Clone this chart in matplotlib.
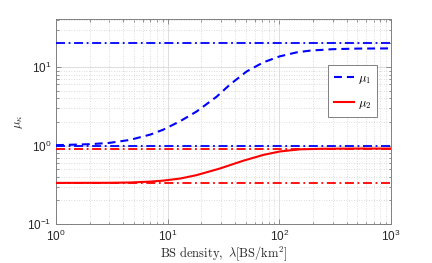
import matplotlib
matplotlib.use('Agg')
import matplotlib.pyplot as plt
from matplotlib.ticker import LogLocator, NullFormatter

# BS density (x) and mean values
lam_mu1 = [1, 2, 3, 4.6, 7, 9.1, 13, 18.2, 27.5, 36, 51, 72, 101, 143, 188, 300, 500, 1000]
mu1 = [1.01, 1.04, 1.08, 1.18, 1.38, 1.59, 2.05, 2.72, 4.2, 5.96, 8.8, 11.5, 13.7, 15.4, 16.2, 16.9, 17.2, 17.3]

lam_mu2 = [1, 3, 4.6, 7, 9.1, 13, 18.2, 29.4, 47.5, 72, 101, 153, 250, 500, 1000]
mu2 = [0.334, 0.335, 0.338, 0.347, 0.357, 0.38, 0.42, 0.51, 0.64, 0.76, 0.84, 0.895, 0.91, 0.915, 0.915]

# asymptotic bounds (dash-dot lines)
mu1_bounds = [20.3, 1.0]
mu2_bounds = [0.915, 0.334]
x_range = [1, 1000]

plt.rcParams['mathtext.fontset'] = 'cm'

fig = plt.figure(figsize=(4.32, 2.63), dpi=100)
fig.patch.set_facecolor('white')
ax = fig.add_axes([0.1296, 0.1483, 0.7755, 0.7795])

BLUE = '#0000ff'
RED = '#ff0000'
DASHDOT = (0, (5, 2, 1, 2))

for b in mu1_bounds:
    ax.plot(x_range, [b, b], color=BLUE, lw=1.3, linestyle=DASHDOT, zorder=3)
for b in mu2_bounds:
    ax.plot(x_range, [b, b], color=RED, lw=1.3, linestyle=DASHDOT, zorder=3)

ax.plot(lam_mu1, mu1, color=BLUE, lw=1.5, linestyle=(0, (3.8, 2.4)), label=r'$\mu_1$', zorder=4)
ax.plot(lam_mu2, mu2, color=RED, lw=1.5, linestyle='-', label=r'$\mu_2$', zorder=4)

ax.set_xscale('log')
ax.set_yscale('log')
ax.set_xlim(1, 1000)
ax.set_ylim(0.1, 41)

ax.yaxis.set_major_locator(LogLocator(base=10, numticks=10))
ax.yaxis.set_minor_locator(LogLocator(base=10, subs=range(2, 10), numticks=20))
ax.yaxis.set_minor_formatter(NullFormatter())
ax.xaxis.set_minor_formatter(NullFormatter())

ax.grid(True, which='major', color='#d9d9d9', lw=0.6, linestyle='-')
ax.grid(True, which='minor', color='#d0d0d0', lw=0.6, linestyle=(0, (1, 2)))
ax.set_axisbelow(True)

for s in ax.spines.values():
    s.set_color('#808080')
    s.set_linewidth(0.7)
ax.tick_params(which='both', direction='in', top=True, right=True, colors='#808080',
               labelcolor='#262626', labelsize=8.5, width=0.6)
ax.tick_params(which='major', length=3.5)
ax.tick_params(which='minor', length=1.8)
for lbl in ax.get_xticklabels() + ax.get_yticklabels():
    lbl.set_family('Liberation Sans')

ax.set_xlabel(r'$\mathrm{BS\ density,}\ \lambda[\mathrm{BS/km^2}]$', fontsize=9,
              color='#262626', labelpad=0)
ax.set_ylabel(r'$\mu_\kappa$', fontsize=9, color='#262626', labelpad=1)

leg = ax.legend(loc='upper left', bbox_to_anchor=(0.813, 0.774), fontsize=9,
                handlelength=1.6, handletextpad=0.3, borderpad=0.45, borderaxespad=0,
                labelspacing=0.8, fancybox=False, framealpha=1)
leg.get_frame().set_edgecolor('#808080')
leg.get_frame().set_linewidth(0.7)

fig.savefig('out.png', dpi=100, facecolor='white')
